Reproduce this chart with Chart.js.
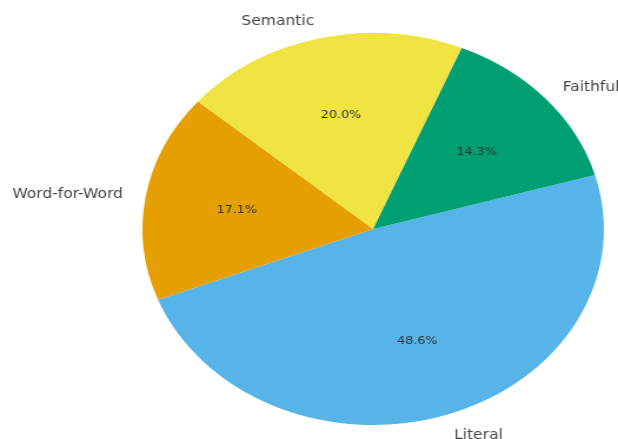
<!DOCTYPE html>
<html lang="en">

<head>
    <meta charset="UTF-8">
    <title>Translation methods</title>
    <script src="https://cdn.jsdelivr.net/npm/chart.js@4.4.1/dist/chart.umd.min.js"></script>
    <style>
        html, body { margin: 0; padding: 0; background: #fff; overflow: hidden; }
        /* the reference is a horizontally stretched picture, so the canvas is stretched too */
        #wrap { width: 525px; height: 439px; transform: scaleX(1.1772); transform-origin: 0 0; }
    </style>
</head>

<body>
    <div id="wrap">
        <canvas id="chartPie" width="525" height="439"></canvas>
    </div>

<script>
    // Categories, clockwise from the Literal / Faithful edge
    var categorias = ['Literal', 'Word-for-Word', 'Semantic', 'Faithful'];
    var contagens = [17, 6, 7, 5];
    var percentuais = ['48.6%', '17.1%', '20.0%', '14.3%'];
    var cores = ['#56B4E9', '#E69F00', '#F0E442', '#009E73'];

    // Draws the category names outside and the percents inside the slices
    var rotulosPlugin = {
        id: 'rotulos',
        afterDatasetsDraw(chart) {
            var ctx = chart.ctx;
            var arcos = chart.getDatasetMeta(0).data;
            ctx.save();
            ctx.textBaseline = 'middle';
            arcos.forEach((arc, i) => {
                var meio = (arc.startAngle + arc.endAngle) / 2;
                var c = Math.cos(meio), s = Math.sin(meio);
                var r = arc.outerRadius;

                ctx.fillStyle = '#333';
                ctx.font = '10.8px "DejaVu Sans"';
                ctx.textAlign = 'center';
                ctx.fillText(percentuais[i], arc.x + c * r * 0.6, arc.y + s * r * 0.6 + 1);

                ctx.fillStyle = '#444';
                ctx.font = '13.2px "DejaVu Sans"';
                ctx.textAlign = c >= 0 ? 'left' : 'right';
                ctx.fillText(categorias[i], arc.x + c * r * 1.1, arc.y + s * r * 1.1 + 2);
            });
            ctx.restore();
        }
    };

    var pizza = new Chart(document.getElementById('chartPie').getContext('2d'), {
        type: 'pie',
        data: {
            labels: categorias,
            datasets: [
                {
                    data: contagens,
                    backgroundColor: cores,
                    borderWidth: 0
                }
            ]
        },
        options: {
            responsive: false,
            animation: false,
            rotation: 74,
            layout: {
                padding: { left: 121, right: 12, top: 33, bottom: 14 }
            },
            plugins: {
                legend: { display: false },
                tooltip: { enabled: false }
            }
        },
        plugins: [rotulosPlugin]
    });
</script>
</body>

</html>
